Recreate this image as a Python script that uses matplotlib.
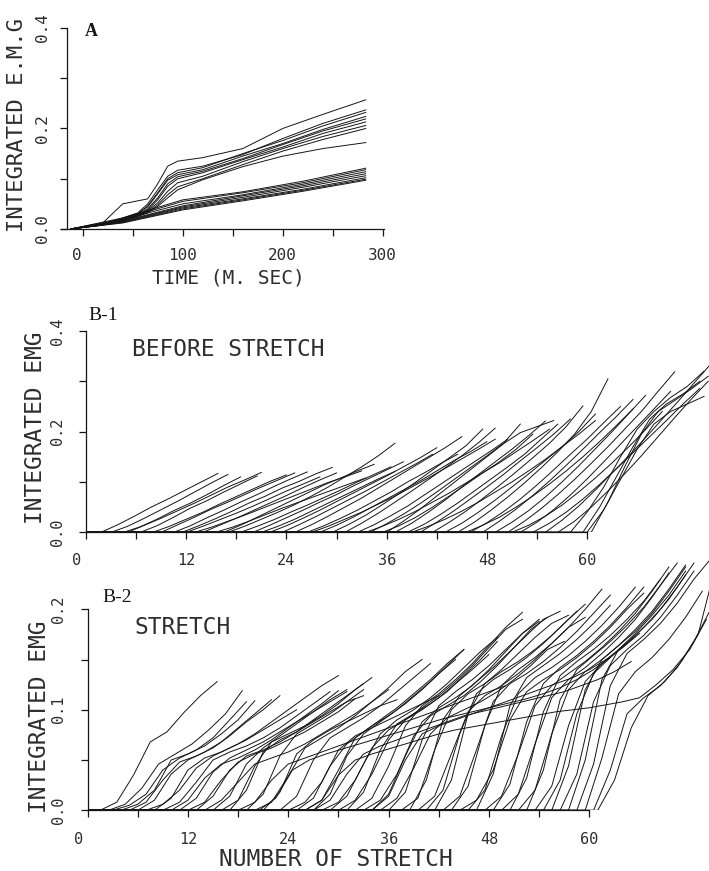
import numpy as np
import matplotlib
matplotlib.use('Agg')
import matplotlib.pyplot as plt
from matplotlib.transforms import ScaledTranslation

W, H = 709, 871
INK = '#151515'
TXT = '#2e2e2e'
LW = 0.7

plt.rcParams['font.family'] = ['DejaVu Sans Mono']
plt.rcParams['axes.linewidth'] = 0.9

# ---- panel A: integrated EMG vs time (ms) ----
a_t_upper = [-12, 20, 40, 55, 65, 75, 85, 95, 120, 160, 200, 240, 283]
a_upper = [
    [0, .012, .050, .056, .060, .090, .125, .135, .142, .160, .200, .228, .257],
    [0, .010, .022, .032, .050, .078, .105, .117, .125, .148, .180, .210, .237],
    [0, .010, .021, .030, .046, .072, .100, .112, .122, .150, .176, .205, .232],
    [0, .009, .020, .030, .044, .070, .097, .108, .118, .145, .170, .198, .224],
    [0, .009, .019, .028, .040, .062, .090, .104, .115, .140, .168, .195, .219],
    [0, .009, .019, .027, .038, .058, .085, .100, .112, .138, .163, .190, .213],
    [0, .008, .018, .026, .036, .052, .075, .092, .105, .134, .160, .184, .206],
    [0, .008, .018, .026, .034, .048, .068, .084, .100, .128, .155, .178, .200],
    [0, .008, .017, .025, .032, .045, .062, .078, .098, .124, .145, .160, .172],
]
a_t_lower = [-12, 40, 100, 160, 220, 283]
a_lower = [
    [0, .022, .058, .074, .095, .121],
    [0, .020, .055, .072, .092, .118],
    [0, .019, .050, .068, .089, .114],
    [0, .016, .046, .066, .086, .110],
    [0, .015, .044, .063, .083, .106],
    [0, .014, .042, .060, .079, .102],
    [0, .013, .040, .058, .077, .099],
    [0, .012, .038, .056, .075, .097],
]

# ---- panels B: each trace starts at a stretch number, values every 2 stretches ----
B_STEP = 2
b1_start = [1.8, 3.0, 4.5, 5.0, 6.5, 8.0, 9.0, 10.5, 12.0, 11.5, 13.0, 14.0, 15.5,
            16.5, 17.0, 18.5, 20.0, 21.0, 22.0, 23.5, 25.0, 26.5, 27.0, 28.0, 29.5,
            31.0, 32.5, 33.5, 34.0, 35.5, 36.0, 37.0, 38.5, 39.0, 40.0, 41.5, 43.0,
            44.5, 45.5, 46.0, 47.5, 49.0, 50.5, 51.0, 52.0, 53.5, 55.0, 56.5, 58.0,
            59.5, 60.5, 60.0]
b1_vals = [
    [0, .015, .032, .050, .066, .083, .100, .117],
    [0, .012, .028, .045, .062, .080, .098, .115],
    [0, .011, .026, .043, .058, .075, .093, .110],
    [0, .014, .028, .043, .058, .074, .090, .104, .119],
    [0, .013, .030, .048, .063, .080, .096, .112],
    [0, .012, .026, .040, .056, .071, .086, .101, .114],
    [0, .015, .030, .046, .060, .075, .090, .104, .118],
    [0, .013, .029, .044, .060, .075, .091, .106, .120],
    [0, .012, .025, .038, .052, .067, .082, .096, .110],
    [0, .013, .027, .042, .058, .072, .088, .101, .116, .129],
    [0, .010, .022, .034, .047, .060, .073, .086, .099, .110, .122],
    [0, .014, .028, .043, .058, .073, .089, .104, .118],
    [0, .010, .022, .035, .048, .060, .072, .084, .096, .108],
    [0, .014, .030, .046, .062, .078, .094, .108, .122, .135],
    [0, .012, .026, .040, .055, .072, .090, .110, .130, .152, .177],
    [0, .012, .025, .040, .054, .069, .084, .100, .115, .130],
    [0, .014, .029, .044, .060, .075, .092, .108, .124, .140],
    [0, .012, .026, .042, .058, .074, .090, .106, .121],
    [0, .013, .028, .044, .061, .078, .095, .112, .130, .148, .168],
    [0, .015, .031, .048, .065, .082, .100, .118, .136, .155],
    [0, .015, .032, .050, .068, .088, .108, .128, .148, .168, .190],
    [0, .013, .028, .044, .062, .080, .100, .118, .137, .155],
    [0, .012, .026, .040, .056, .072, .090, .108, .127, .146, .165, .185],
    [0, .014, .030, .048, .066, .084, .102, .122, .142, .160, .180],
    [0, .016, .034, .055, .077, .100, .124, .148, .172, .205],
    [0, .018, .038, .060, .082, .105, .128, .152, .178, .207],
    [0, .015, .033, .052, .074, .096, .118, .140, .162, .185],
    [0, .012, .026, .042, .060, .078, .098, .118, .138, .160, .182, .205],
    [0, .017, .036, .057, .080, .104, .128, .152, .177, .215],
    [0, .013, .030, .050, .072, .095, .118, .140, .165, .195],
    [0, .022, .046, .072, .098, .124, .150, .176, .198, .210, .222],
    [0, .018, .040, .064, .090, .115, .140, .165, .192, .221],
    [0, .016, .036, .058, .082, .106, .130, .155, .185, .215],
    [0, .012, .026, .042, .060, .080, .100, .122, .145, .170, .195, .222],
    [0, .020, .042, .066, .090, .115, .142, .168, .195, .225],
    [0, .020, .042, .067, .093, .120, .148, .177, .210, .251],
    [0, .018, .040, .064, .090, .116, .143, .170, .200, .235],
    [0, .020, .044, .070, .098, .128, .160, .195, .240, .305],
    [0, .014, .030, .050, .072, .096, .122, .150, .180, .212, .245],
    [0, .019, .041, .066, .094, .124, .155, .185, .218, .250],
    [0, .022, .046, .073, .102, .133, .165, .198, .230, .264],
    [0, .020, .043, .070, .100, .132, .166, .200, .236, .272],
    [0, .022, .047, .075, .105, .137, .170, .205, .240, .280, .319],
    [0, .014, .032, .054, .080, .108, .138, .170, .204, .240],
    [0, .020, .045, .074, .106, .140, .175, .210, .245, .280],
    [0, .018, .040, .066, .095, .126, .158, .190, .222, .255, .286],
    [0, .024, .052, .084, .118, .152, .188, .225, .262, .300, .338],
    [0, .022, .050, .082, .116, .152, .190, .228, .265, .300],
    [0, .040, .090, .150, .205, .240, .268, .290, .320],
    [0, .050, .110, .170, .225, .255, .275, .300],
    [0, .060, .130, .195, .240, .262, .285, .310],
    [0, .045, .105, .165, .215, .240, .255, .270],
]

b2_start = [1.5, 2.5, 3.0, 4.0, 5.0, 6.0, 7.0, 8.0, 9.0, 10.0, 11.0, 12.0, 13.0, 14.0,
            15.0, 16.0, 17.0, 18.0, 19.0, 20.0, 20.5, 21.0, 23.0, 24.0, 25.0, 26.0,
            26.0, 27.0, 27.0, 28.0, 29.0, 30.0, 31.0, 32.0, 33.0, 34.0, 34.0, 35.0,
            36.0, 37.5, 38.5, 39.5, 40.5, 41.5, 42.5, 43.5, 44.5, 45.5, 46.5, 47.5,
            48.5, 49.5, 50.5, 51.5, 52.5, 53.5, 54.5, 55.5, 56.5, 57.5, 58.5, 59.5,
            60.5, 61.0]
b2_vals = [
    [0, .008, .035, .068, .078, .097, .114, .128],
    [0, .006, .022, .046, .056, .066, .080, .096, .119],
    [0, .005, .016, .040, .052, .060, .072, .090, .108],
    [0, .006, .020, .050, .056, .064, .076, .090, .109],
    [0, .008, .030, .048, .054, .062, .074, .088, .100, .114],
    [0, .010, .036, .050, .058, .068, .082, .096, .110],
    [0, .006, .020, .042, .054, .062, .070, .080, .090, .100],
    [0, .012, .040, .052, .058, .066, .076, .088, .100, .112, .124, .134],
    [0, .008, .028, .050, .058, .064, .072, .082, .094, .106, .118],
    [0, .010, .032, .046, .052, .060, .070, .082, .094, .106, .119],
    [0, .012, .038, .052, .060, .068, .078, .088, .098, .110, .120],
    [0, .008, .030, .048, .056, .062, .070, .078, .088, .098, .111],
    [0, .014, .040, .054, .060, .068, .078, .090, .102, .114, .126],
    [0, .010, .028, .046, .052, .058, .066, .076, .086, .096, .108, .120],
    [0, .014, .046, .062, .074, .086, .098, .108, .118],
    [0, .010, .044, .068, .076, .084, .094, .106, .120, .132],
    [0, .020, .058, .070, .078, .088, .098, .108, .114],
    [0, .008, .030, .046, .052, .058, .064, .070, .076, .082, .088, .094, .100,
     .106, .112, .118, .124],
    [0, .016, .054, .076, .086, .096, .108, .120],
    [0, .008, .034, .062, .072, .082, .094, .108, .122, .138, .150],
    [0, .012, .040, .050, .056, .061, .066, .071, .076, .081, .086, .091, .095,
     .099, .103, .107, .111, .116, .122, .130, .140, .152],
    [0, .018, .056, .070, .080, .088, .096, .104, .110],
    [0, .014, .050, .072, .082, .092, .104, .118, .132, .146],
    [0, .008, .028, .060, .074, .082, .090, .098, .106, .114],
    [0, .012, .044, .066, .078, .090, .102, .116, .130, .146, .160],
    [0, .010, .040, .072, .084, .094, .106, .120, .136, .150],
    [0, .010, .035, .050, .056, .061, .066, .071, .076, .080, .083, .086, .089,
     .092, .095, .098, .100, .102, .105, .108, .112, .125, .140, .160, .190],
    [0, .016, .054, .076, .088, .100, .114, .128, .144, .160],
    [0, .010, .036, .056, .064, .070, .076, .082, .088, .094, .098, .102, .106,
     .110, .114, .118, .124, .130, .138, .148],
    [0, .008, .030, .062, .080, .090, .100, .112, .126, .140, .155],
    [0, .014, .046, .076, .090, .100, .112, .126, .142, .158, .172],
    [0, .010, .036, .070, .090, .102, .114, .128, .144, .162, .180, .190],
    [0, .018, .060, .086, .096, .106, .118, .134, .150, .168],
    [0, .012, .044, .084, .104, .116, .130, .146, .164, .182, .197],
    [0, .010, .036, .074, .094, .104, .114, .128, .144, .162, .180, .192],
    [0, .016, .054, .088, .102, .112, .124, .140, .158, .176, .190],
    [0, .014, .050, .076, .084, .090, .096, .102, .108, .114, .120, .126, .132,
     .140, .150, .162, .176],
    [0, .012, .042, .076, .092, .100, .108, .118, .130, .144, .160, .168],
    [0, .018, .070, .104, .118, .130, .144, .160, .176, .188],
    [0, .012, .060, .100, .116, .126, .140, .156, .172, .186, .194],
    [0, .030, .090, .114, .128, .142, .158, .174, .190, .198],
    [0, .014, .056, .098, .114, .124, .136, .150, .166, .182, .192],
    [0, .020, .076, .116, .130, .140, .152, .166, .182, .198],
    [0, .030, .096, .126, .138, .148, .160, .174, .190, .205],
    [0, .014, .060, .108, .126, .136, .148, .162, .178, .196, .214],
    [0, .024, .084, .124, .140, .152, .166, .182, .200, .220],
    [0, .010, .040, .090, .118, .130, .140, .152, .166, .182, .200, .216],
    [0, .020, .074, .116, .132, .142, .154, .168, .184, .202, .222],
    [0, .036, .104, .132, .144, .156, .170, .186, .204],
    [0, .014, .056, .104, .124, .136, .148, .162, .178, .196, .218, .242],
    [0, .026, .088, .126, .142, .154, .168, .184, .202, .222],
    [0, .016, .066, .112, .130, .142, .156, .172, .190, .212, .236],
    [0, .032, .098, .134, .148, .160, .174, .190, .208, .230],
    [0, .020, .076, .120, .138, .150, .164, .180, .198, .220, .244],
    [0, .040, .110, .140, .154, .168, .184, .202, .224, .246],
    [0, .024, .084, .128, .146, .160, .176, .194, .214, .238],
    [0, .030, .096, .136, .152, .166, .182, .200, .222, .246],
    [0, .044, .120, .150, .164, .178, .196, .218, .242],
    [0, .036, .108, .144, .160, .174, .192, .214, .238],
    [0, .050, .130, .160, .174, .190, .210, .234],
    [0, .046, .124, .156, .170, .186, .206, .230, .250],
    [0, .052, .116, .138, .152, .170, .192, .218],
    [0, .040, .096, .112, .124, .142, .168, .200],
    [0, .030, .082, .114, .128, .148, .175, .240],
]


def box(left, top, right, bottom):
    # pixel edges of an axes -> figure fraction rect
    return [left / W, 1 - bottom / H, (right - left) / W, (bottom - top) / H]


def at(x, y):
    return x / W, 1 - y / H


def style_axes(ax, size, pad):
    for side in ['top', 'right']:
        ax.spines[side].set_visible(False)
    for side in ['left', 'bottom']:
        ax.spines[side].set_color(INK)
    ax.tick_params(direction='out', length=5, width=0.9, colors=INK,
                   labelcolor=TXT, labelsize=size, pad=pad)
    ax.patch.set_visible(False)


def shift_zero_label(ax, dx_px):
    tick = ax.xaxis.get_major_ticks()[0]
    tick.label1.set_transform(tick.label1.get_transform() +
                              ScaledTranslation(dx_px / 100, 0, fig.dpi_scale_trans))


def trace(start, vals):
    x = [0] + [start + B_STEP * i for i in range(len(vals))]
    y = [0] + list(vals)
    return x, y


fig = plt.figure(figsize=(W / 100, H / 100), dpi=100)

# panel A
axA = fig.add_axes(box(61, 28, 384, 229))
for vals in a_lower:
    axA.plot(a_t_lower, vals, color=INK, lw=LW)
for vals in a_upper:
    axA.plot(a_t_upper, vals, color=INK, lw=LW)
axA.set_xlim(-21.7, 301.3)
axA.set_ylim(0, 0.4)
axA.spines['left'].set_position(('data', -16))
style_axes(axA, 11.5, 9)
axA.set_xticks(range(0, 301, 50))
axA.set_xticklabels(['0', '', '100', '', '200', '', '300'])
axA.set_yticks([0, .1, .2, .3, .4])
axA.set_yticklabels(['0.0', '', '0.2', '', '0.4'], rotation=90, va='center')
axA.tick_params(axis='y', pad=7)
shift_zero_label(axA, -6)

fig.text(*at(17, 125), 'INTEGRATED E.M.G', rotation=90, ha='center', va='center',
         fontsize=16, color=TXT)
fig.text(*at(228, 278), 'TIME (M. SEC)', ha='center', va='center', fontsize=14,
         color=TXT)
fig.text(*at(85, 32), 'A', ha='left', va='center', fontsize=13, weight='bold',
         family='Liberation Serif', color=INK)

# panel B-1
axB1 = fig.add_axes(box(86, 331, 709, 532.3))
for s, vals in zip(b1_start, b1_vals):
    x, y = trace(s, vals)
    axB1.plot(x, y, color=INK, lw=LW)
axB1.set_xlim(0, 74.6)
axB1.set_ylim(0, 0.4)
style_axes(axB1, 11, 10)
axB1.spines['bottom'].set_bounds(0, 60)
axB1.set_xticks(range(0, 61, 6))
axB1.set_xticklabels([str(v) if v % 12 == 0 else '' for v in range(0, 61, 6)])
axB1.set_yticks([0, .1, .2, .3, .4])
axB1.set_yticklabels(['0.0', '', '0.2', '', '0.4'], rotation=90, va='center')
shift_zero_label(axB1, -9)

fig.text(*at(36, 428), 'INTEGRATED EMG', rotation=90, ha='center', va='center',
         fontsize=16.5, color=TXT)
fig.text(*at(88, 315), 'B-1', ha='left', va='center', fontsize=14,
         family='Liberation Serif', color=INK)
fig.text(*at(132, 349), 'BEFORE STRETCH', ha='left', va='center', fontsize=16.5,
         color=TXT)

# panel B-2
axB2 = fig.add_axes(box(87.5, 559, 709, 810.3))
for s, vals in zip(b2_start, b2_vals):
    x, y = trace(s, vals)
    axB2.plot(x, y, color=INK, lw=LW)
axB2.set_xlim(0, 74.3)
axB2.set_ylim(0, 0.25)
style_axes(axB2, 11, 10.5)
axB2.spines['bottom'].set_bounds(0, 60)
axB2.spines['left'].set_bounds(0, 0.2)
axB2.set_xticks(range(0, 61, 6))
axB2.set_xticklabels([str(v) if v % 12 == 0 else '' for v in range(0, 61, 6)])
axB2.set_yticks([0, .05, .1, .15, .2])
axB2.set_yticklabels(['0.0', '', '0.1', '', '0.2'], rotation=90, va='center')
shift_zero_label(axB2, -9)

fig.text(*at(40, 717), 'INTEGRATED EMG', rotation=90, ha='center', va='center',
         fontsize=16.5, color=TXT)
fig.text(*at(102, 598), 'B-2', ha='left', va='center', fontsize=14,
         family='Liberation Serif', color=INK)
fig.text(*at(134, 628), 'STRETCH', ha='left', va='center', fontsize=16.5,
         color=TXT)
fig.text(*at(336, 859), 'NUMBER OF STRETCH', ha='center', va='center',
         fontsize=16.5, color=TXT)

fig.savefig('out.png', dpi=100, facecolor='white')
